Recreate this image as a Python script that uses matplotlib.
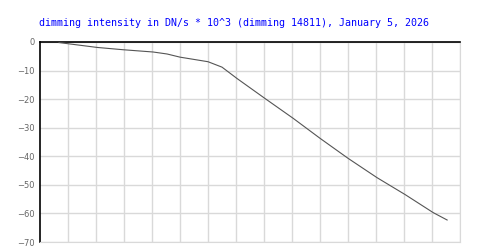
import matplotlib
matplotlib.use("Agg")
import matplotlib.pyplot as plt

# x in grid units (15 columns), y = dimming intensity
x_vals = [0.68, 1.0, 2.04, 2.96, 4.04, 4.54, 5.0, 6.0, 6.5, 7.04, 8.04,
          9.04, 10.0, 11.0, 12.04, 13.04, 14.04, 14.54]
y_vals = [-0.2, -0.6, -1.9, -2.7, -3.5, -4.2, -5.3, -6.9, -8.8, -12.8, -19.8,
          -26.7, -33.7, -40.7, -47.5, -53.4, -59.7, -62.3]
y_ticks = [0, -10, -20, -30, -40, -50, -60, -70]
x_grid = list(range(1, 16))
title = "dimming intensity in DN/s * 10^3 (dimming 14811), January 5, 2026"

fig = plt.figure(figsize=(5, 2.5), dpi=100)
ax = fig.add_axes([0.08, 0.032, 0.84, 0.8])

ax.plot(x_vals, y_vals, color="#555555", linewidth=0.8, zorder=3)

ax.set_xlim(0, 15)
ax.set_ylim(-70, 0)
ax.set_yticks(y_ticks)
ax.set_xticks(x_grid)
ax.set_xticklabels([])
ax.tick_params(axis="both", length=0)
ax.tick_params(axis="y", labelsize=6, labelcolor="#666666", pad=4)
ax.grid(True, color="#d9d9d9", linewidth=1)
ax.set_axisbelow(True)

ax.spines["left"].set_color("black")
ax.spines["left"].set_linewidth(1.2)
ax.spines["top"].set_color("black")
ax.spines["top"].set_linewidth(1.2)
ax.spines["right"].set_color("#d9d9d9")
ax.spines["bottom"].set_color("#d9d9d9")

fig.text(0.078, 0.909, title, ha="left", va="center", color="#0000ff",
         fontsize=7.2, family="DejaVu Sans Mono")

fig.savefig("out.png", dpi=100)
